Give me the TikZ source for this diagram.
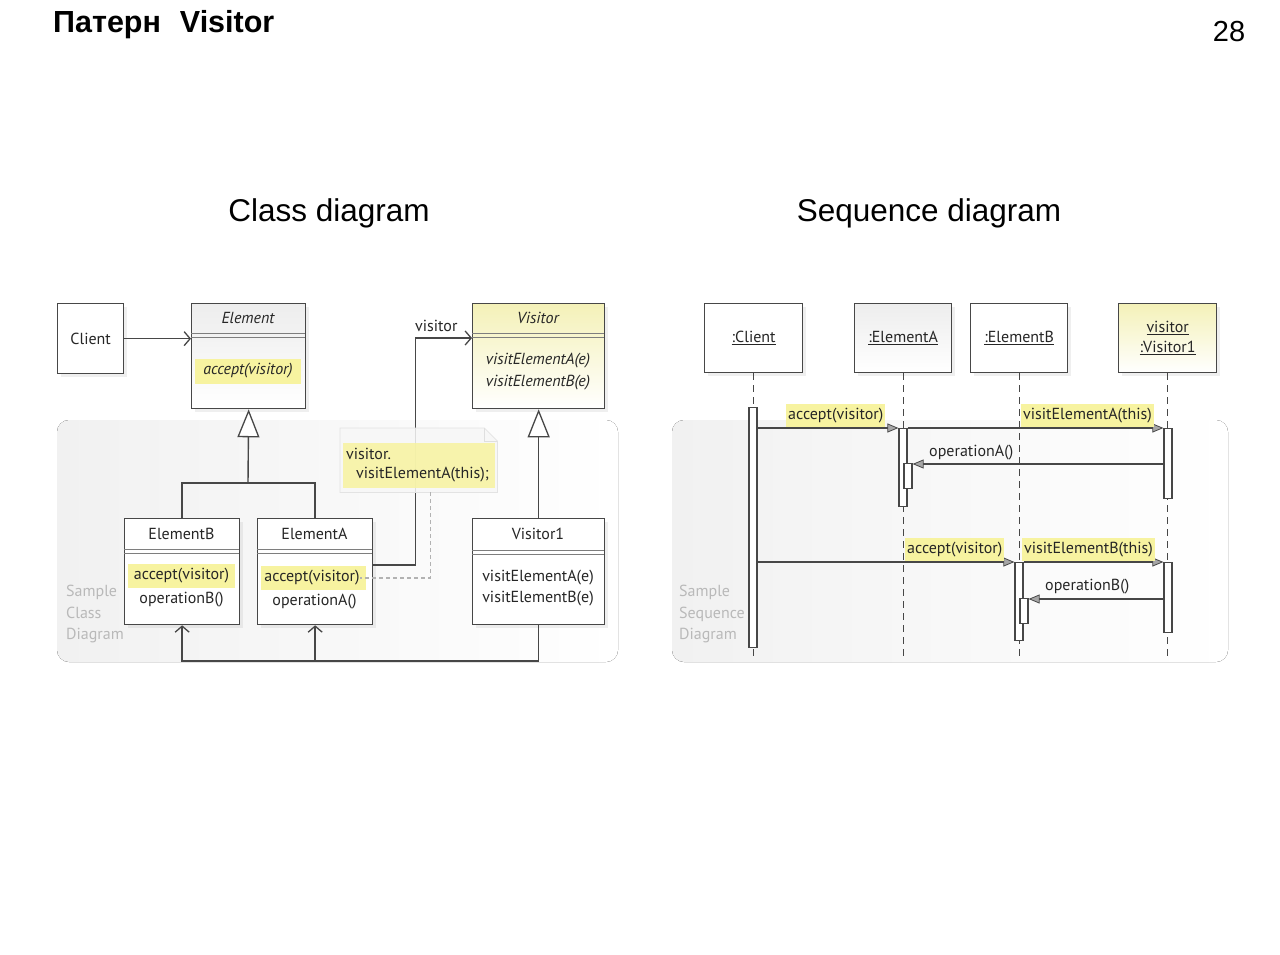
\documentclass[tikz,border=0pt]{standalone}
\usepackage{fontspec}
\setmainfont{Liberation Sans}
\newfontfamily\dfont{PT Sans}
\usetikzlibrary{arrows.meta,shadows,calc}
\definecolor{lc}{HTML}{474747}
\definecolor{hl}{HTML}{F7F3A0}
\definecolor{vistop}{HTML}{F4F1B8}
\tikzset{
  box/.style={draw=lc, line width=1.3pt, fill=white, anchor=north west, inner sep=0pt,
    drop shadow={shadow xshift=3pt, shadow yshift=-3pt, opacity=0.12}},
  elembox/.style={box, top color=gray!14, bottom color=white},
  visbox/.style={box, top color=vistop, bottom color=white},
  dtxt/.style={font=\dfont\fontsize{16}{18}\selectfont, text=black!85, inner sep=0pt},
  itxt/.style={dtxt, font=\dfont\itshape\fontsize{16}{18}\selectfont},
  hltxt/.style={dtxt, fill=hl, inner xsep=2pt, inner ysep=4pt},
  sep/.style={draw=lc!70, line width=0.8pt},
  conn/.style={draw=lc, line width=1.4pt},
  barb/.style={-{Straight Barb[length=6pt,width=14pt,line width=1.3pt]}},
  inh/.style={-{Triangle[open,length=28pt,width=22pt,line width=1.3pt,fill=white]}},
  life/.style={draw=lc, line width=1.3pt, dash pattern=on 7pt off 5pt},
  act/.style={draw=lc, line width=1.2pt, fill=white, anchor=north, minimum width=8pt, inner sep=0pt},
  msg/.style={draw=lc, line width=1.3pt, -{Triangle[length=11pt,width=9pt,fill=gray!70,line width=0.8pt]}},
  sample/.style={font=\dfont\fontsize{16}{21.5}\selectfont, text=gray!55, align=left, anchor=north west, inner sep=0pt},
}
\begin{document}
\begin{tikzpicture}[x=1pt,y=-1pt]
\useasboundingbox (0,0) rectangle (1280,955);
\fill[white] (0,0) rectangle (1280,955);

% titles
\node[font=\bfseries\fontsize{30.5}{34}\selectfont, anchor=west, inner sep=0pt] (title) at (53,25) {Патерн\hspace{0.62em}Visitor};
\node[font=\fontsize{29}{32}\selectfont, inner sep=0pt] (num) at (1229,32) {28};
\node[font=\fontsize{31.5}{34}\selectfont, inner sep=0pt] (capA) at (329,213) {Class diagram};
\node[font=\fontsize{31.5}{34}\selectfont, inner sep=0pt] (capB) at (929,213) {Sequence diagram};

% background panels
\fill[rounded corners=12pt, left color=gray!11, right color=white] (57,420) rectangle (618,662);
\fill[rounded corners=12pt, left color=gray!11, right color=white] (672,420) rectangle (1228,662);
\node[sample] (sc) at (66,585) {Sample\\Class\\Diagram};
\node[sample] (ss) at (679,585) {Sample\\Sequence\\Diagram};

% ===== class diagram =====
\node[box, minimum width=66pt, minimum height=70pt] (client) at (57,303) {};
\node[dtxt] (clientT) at (client.center) {Client};

\node[elembox, minimum width=114pt, minimum height=105pt] (element) at (191,303) {};
\draw[sep] (191,333) -- (305,333) (191,337) -- (305,337);
\node[itxt] (elementT) at (248,318) {Element};
\fill[hl] (195,359) rectangle (301,384);
\node[itxt] (elementOp) at (248,371) {accept(visitor)};

\node[visbox, minimum width=132pt, minimum height=105pt] (visitor) at (472,303) {};
\draw[sep] (472,333) -- (604,333) (472,337) -- (604,337);
\node[itxt] (visitorT) at (538,318) {Visitor};
\node[itxt] (visitorA) at (538,361) {visitElementA(e)};
\node[itxt] (visitorB) at (538,383) {visitElementB(e)};

\node[box, minimum width=115pt, minimum height=106pt] (elemB) at (124,518) {};
\draw[sep] (124,549) -- (239,549) (124,553) -- (239,553);
\node[dtxt] (elemBT) at (181.5,534) {ElementB};
\fill[hl] (128,564) rectangle (235,588);
\node[dtxt] (accB) at (181.5,576) {accept(visitor)};
\node[dtxt] (opB) at (181.5,600) {operationB()};

\node[box, minimum width=115pt, minimum height=106pt] (elemA) at (257,518) {};
\draw[sep] (257,549) -- (372,549) (257,553) -- (372,553);
\node[dtxt] (elemAT) at (314.5,534) {ElementA};
\fill[hl] (261,566) rectangle (366,590);
\node[dtxt] (accA) at (312,578) {accept(visitor)};
\node[dtxt] (opA) at (314.5,602) {operationA()};

\node[box, minimum width=132pt, minimum height=106pt] (visitor1) at (472,518) {};
\draw[sep] (472,550) -- (604,550) (472,554) -- (604,554);
\node[dtxt] (visitor1T) at (538,534) {Visitor1};
\node[dtxt] (visitor1A) at (538,578) {visitElementA(e)};
\node[dtxt] (visitor1B) at (538,599) {visitElementB(e)};

% connectors
\draw[conn, barb] (client.east) -- (element.west |- client.east);
\coordinate (jB) at (248,483);
\draw[conn, inh] (jB) -- (element.south);
\draw[conn] (elemB.north) |- (jB) -| (elemA.north);
\draw[conn, inh] (visitor1.north) -- (visitor.south);

% association ElementA -> Visitor
\draw[conn, barb] ([yshift=-47pt]elemA.north east) -- ++(42,0) |- ([yshift=-35pt]visitor.north west);
\node[dtxt, anchor=west] (assocL) at (415,326) {visitor};

% note
\node[minimum width=157pt, minimum height=64pt, anchor=north west, inner sep=0pt] (note) at (340,428) {};
\path[fill=gray!6, fill opacity=0.85, draw=gray!22, line width=0.8pt]
  (note.north west) -- ([xshift=-13pt]note.north east) -- ([yshift=-13pt]note.north east) -- (note.south east) -- (note.south west) -- cycle;
\draw[gray!25, line width=0.8pt] ([xshift=-13pt]note.north east) -- ([xshift=-13pt,yshift=-13pt]note.north east) -- ([yshift=-13pt]note.north east);
\fill[hl, fill opacity=0.85] (343,443) rectangle (495,488);
\node[dtxt, anchor=west] (noteA) at (346,454) {visitor.};
\node[dtxt, anchor=west] (noteB) at (356,475) {visitElementA(this);};
\draw[gray!60, line width=1.2pt, dash pattern=on 4pt off 3pt] ([xshift=11.5pt]note.south) |- (accA.east);

% dependencies
\coordinate (busY) at (0,661);
\draw[conn, barb] (visitor1.south) -- (visitor1.south |- busY) -| (elemB.south);
\draw[conn, barb] (elemA.south |- busY) -- (elemA.south);

% ===== sequence diagram =====
\node[box, minimum width=98pt, minimum height=69pt] (sC) at (704,303) {};
\node[dtxt] (sCT) at (sC.center) {\underline{:Client}};
\node[elembox, minimum width=97pt, minimum height=69pt] (sA) at (854,303) {};
\node[dtxt] (sAT) at (sA.center) {\underline{:ElementA}};
\node[box, minimum width=97pt, minimum height=69pt] (sB) at (970,303) {};
\node[dtxt] (sBT) at (sB.center) {\underline{:ElementB}};
\node[visbox, minimum width=98pt, minimum height=69pt] (sV) at (1118,303) {};
\node[dtxt, align=center] (sVT) at (sV.center) {\underline{visitor}\\[2pt]\underline{:Visitor1}};

\coordinate (endY) at (0,660);
\draw[life] (sC.south) -- (sC.south |- endY);
\draw[life] (sA.south) -- (sA.south |- endY);
\draw[life] (sB.south) -- (sB.south |- endY);
\draw[life] (sV.south) -- (sV.south |- endY);

\node[act, minimum height=240pt] (cAct) at (753,407) {};
\node[act, minimum height=78pt] (aAct) at (903,428) {};
\node[act, minimum height=25pt] (aN) at (908,463) {};
\node[act, minimum height=70pt] (v1Act) at (1168,428) {};
\node[act, minimum height=78pt] (bAct) at (1019,562) {};
\node[act, minimum height=25pt] (bN) at (1024,598) {};
\node[act, minimum height=70pt] (v2Act) at (1168,562) {};

\draw[msg] ([yshift=-21pt]cAct.north east) -- (aAct.north west);
\draw[msg] (aAct.north east) -- (v1Act.north west);
\draw[msg] ([yshift=-1pt]v1Act.west |- aN.north) -- ([yshift=-1pt]aN.north east);
\draw[msg] ([yshift=-155pt]cAct.north east) -- (bAct.north west);
\draw[msg] (bAct.north east) -- (v2Act.north west);
\draw[msg] ([yshift=-1pt]v2Act.west |- bN.north) -- ([yshift=-1pt]bN.north east);

\node[hltxt, anchor=south west] (m1) at (786,427) {accept(visitor)};
\node[hltxt, anchor=south west] (m2) at (1021,427) {visitElementA(this)};
\node[dtxt, anchor=south west] (m3) at (929,460) {operationA()};
\node[hltxt, anchor=south west] (m4) at (905,561) {accept(visitor)};
\node[hltxt, anchor=south west] (m5) at (1022,561) {visitElementB(this)};
\node[dtxt, anchor=south west] (m6) at (1045,594) {operationB()};
\end{tikzpicture}
\end{document}
